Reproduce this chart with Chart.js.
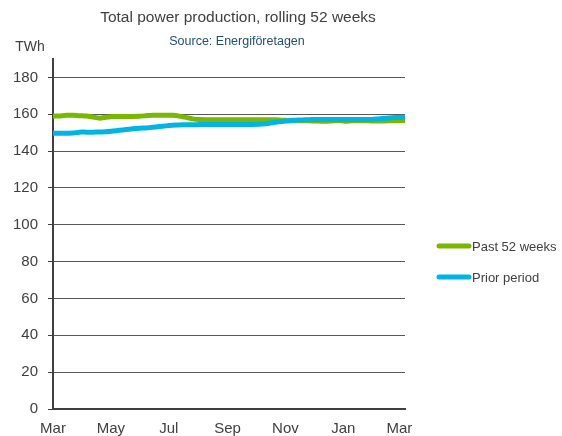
<!DOCTYPE html>
<html>
<head>
<meta charset="utf-8">
<script src="https://cdn.jsdelivr.net/npm/chart.js@4"></script>
<style>
  body { margin: 0; background: #fff; }
  #wrap { width: 562px; height: 436px; }
</style>
</head>
<body>
<div id="wrap"><canvas id="container" width="562" height="436"></canvas></div>
<script>
// days since 1 March for each weekly reading
const weekDays = [0, 7, 14, 21, 28, 35, 42, 49, 56, 63, 70, 77, 84, 91, 98, 105, 112, 119,
    126, 133, 140, 147, 154, 161, 168, 175, 182, 189, 196, 203, 210, 217, 224, 231, 238, 245,
    252, 259, 266, 273, 280, 287, 294, 301, 308, 315, 322, 329, 336, 343, 350, 357, 364, 371]

const past52 = [158.9, 159.1, 159.4, 159.5, 159.2, 159.0, 158.5, 157.9, 158.4, 158.8, 158.8, 158.8,
    158.8, 158.9, 159.2, 159.5, 159.5, 159.5, 159.4, 159.0, 158.3, 157.5, 157.1, 157.0, 157.0, 157.0,
    157.0, 157.0, 157.0, 157.0, 157.0, 157.0, 157.0, 157.0, 156.9, 156.7, 156.5, 156.5, 156.5, 156.4,
    156.3, 156.2, 156.4, 156.6, 156.2, 156.5, 156.5, 156.5, 156.4, 156.3, 156.4, 156.5, 156.5, 156.6]

const priorPeriod = [149.7, 149.7, 149.7, 149.8, 150.3, 150.3, 150.3, 150.4, 150.5, 150.9, 151.3, 151.7,
    152.1, 152.4, 152.6, 152.9, 153.3, 153.7, 154.0, 154.2, 154.3, 154.3, 154.4, 154.4, 154.4, 154.4,
    154.5, 154.5, 154.5, 154.5, 154.5, 154.6, 154.9, 155.4, 155.9, 156.3, 156.7, 156.9, 157.0, 157.1,
    157.2, 157.2, 157.2, 157.2, 157.2, 157.2, 157.2, 157.2, 157.2, 157.5, 157.8, 158.1, 158.3, 158.4]

const monthDays = [0, 61, 122, 184, 245, 306, 365]
const monthLabels = ["Mar", "May", "Jul", "Sep", "Nov", "Jan", "Mar"]

const seriesNames = ["Past 52 weeks", "Prior period"]
const seriesColors = ["#7ab800", "#00b5e5"]

const FONT = "'Liberation Sans', Arial, sans-serif"

const textPlugin = {
    id: 'texts',
    afterDraw(chart) {
        const ctx = chart.ctx
        ctx.save()
        ctx.textBaseline = 'middle'
        ctx.textAlign = 'center'
        ctx.fillStyle = '#404040'
        ctx.font = '15.5px ' + FONT
        ctx.fillText("Total power production, rolling 52 weeks", 238, 18)
        ctx.fillStyle = '#1f4e79'
        ctx.font = '12.5px ' + FONT
        ctx.fillText("Source: Energiföretagen", 237, 42)
        ctx.fillStyle = '#404040'
        ctx.font = '14px ' + FONT
        ctx.fillText("TWh", 30, 47)

        // legend
        ctx.textAlign = 'left'
        ctx.font = '13px ' + FONT
        const legendY = [246, 277]
        for (let index = 0; index < seriesNames.length; index++) {
            const y = legendY[index]
            ctx.strokeStyle = seriesColors[index]
            ctx.lineWidth = 5
            ctx.lineCap = 'round'
            ctx.beginPath()
            ctx.moveTo(439, y)
            ctx.lineTo(469, y)
            ctx.stroke()
            ctx.fillStyle = '#404040'
            ctx.fillText(seriesNames[index], 472, y + 1)
        }
        ctx.restore()
    }
}

const powerChart = new Chart(document.getElementById('container'), {
    type: "line",
    data: {
        datasets: [
            {
                label: seriesNames[0],
                data: weekDays.map((d, i) => ({ x: d, y: past52[i] })),
                fill: false,
                borderColor: seriesColors[0],
                borderWidth: 5,
                tension: 0.2,
                pointRadius: 0,
                order: 1
            },
            {
                label: seriesNames[1],
                data: weekDays.map((d, i) => ({ x: d, y: priorPeriod[i] })),
                fill: false,
                borderColor: seriesColors[1],
                borderWidth: 5,
                tension: 0.2,
                pointRadius: 0,
                order: 0
            }
        ]
    },
    options: {
        animation: false,
        responsive: false,
        layout: { padding: { top: 59, right: 157, left: 0, bottom: 0 } },
        plugins: {
            legend: { display: false },
            tooltip: { enabled: false }
        },
        scales: {
            x: {
                type: 'linear',
                min: 0,
                max: 371,
                afterBuildTicks: scale => {
                    scale.ticks = monthDays.map(v => ({ value: v }))
                },
                afterFit: scale => { scale.height = 27 },
                grid: { display: false, drawTicks: false },
                border: { display: true, color: '#404040', width: 2 },
                ticks: {
                    autoSkip: false,
                    maxRotation: 0,
                    padding: 11,
                    color: '#404040',
                    font: { family: FONT, size: 15 },
                    callback: (value) => monthLabels[monthDays.indexOf(value)]
                }
            },
            y: {
                min: 0,
                max: 190,
                afterBuildTicks: scale => {
                    scale.ticks = scale.ticks.filter(t => t.value % 20 === 0)
                },
                afterFit: scale => { scale.width = 53 },
                grid: {
                    color: '#595959',
                    lineWidth: 1,
                    drawTicks: true,
                    tickLength: 5,
                    tickColor: '#404040'
                },
                border: { display: true, color: '#404040', width: 2 },
                ticks: {
                    stepSize: 20,
                    padding: 10,
                    color: '#404040',
                    font: { family: FONT, size: 15 }
                }
            }
        }
    },
    plugins: [textPlugin]
});
</script>
</body>
</html>
